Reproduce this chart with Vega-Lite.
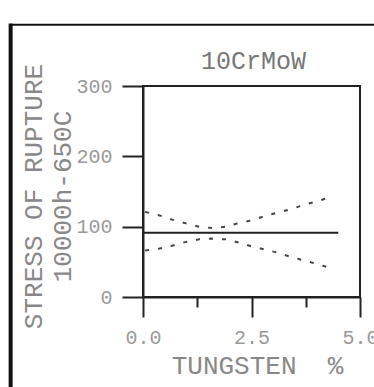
{
  "$schema": "https://vega.github.io/schema/vega-lite/v6.json",
  "width": 217,
  "height": 211,
  "autosize": {"type": "none"},
  "padding": {"left": 143, "top": 86, "right": 14, "bottom": 90},
  "background": "white",
  "config": {"view": {"stroke": "#222", "strokeWidth": 2}, "font": "Liberation Mono"},
  "datasets": {
    "curves": [
      {"series": "mean", "x": 0, "y": 91.5},
      {"series": "mean", "x": 4.5, "y": 91.5},
      {"series": "upper", "x": 0.05, "y": 121},
      {"series": "upper", "x": 0.38, "y": 116},
      {"series": "upper", "x": 0.67, "y": 110},
      {"series": "upper", "x": 0.97, "y": 105},
      {"series": "upper", "x": 1.29, "y": 100},
      {"series": "upper", "x": 1.6, "y": 98},
      {"series": "upper", "x": 1.9, "y": 100},
      {"series": "upper", "x": 2.2, "y": 105},
      {"series": "upper", "x": 2.5, "y": 109},
      {"series": "upper", "x": 2.81, "y": 115},
      {"series": "upper", "x": 3.1, "y": 120},
      {"series": "upper", "x": 3.41, "y": 125},
      {"series": "upper", "x": 3.71, "y": 131},
      {"series": "upper", "x": 4.0, "y": 136},
      {"series": "upper", "x": 4.33, "y": 142},
      {"series": "lower", "x": 0.05, "y": 66},
      {"series": "lower", "x": 0.38, "y": 69},
      {"series": "lower", "x": 0.67, "y": 73},
      {"series": "lower", "x": 0.97, "y": 78},
      {"series": "lower", "x": 1.29, "y": 82},
      {"series": "lower", "x": 1.6, "y": 83},
      {"series": "lower", "x": 1.9, "y": 82},
      {"series": "lower", "x": 2.2, "y": 77.5},
      {"series": "lower", "x": 2.5, "y": 72},
      {"series": "lower", "x": 2.81, "y": 67.5},
      {"series": "lower", "x": 3.1, "y": 63},
      {"series": "lower", "x": 3.41, "y": 57},
      {"series": "lower", "x": 3.71, "y": 52},
      {"series": "lower", "x": 4.0, "y": 47},
      {"series": "lower", "x": 4.33, "y": 41}
    ],
    "vframe": [{"fx": -3.05, "fy": 389, "fy2": -130}],
    "hframe": [{"fx": -3.05, "fx2": 5.4, "fy": 387}]
  },
  "resolve": {"axis": {"x": "independent"}},
  "layer": [
    {
      "data": {"name": "curves"},
      "mark": {"type": "line", "strokeWidth": 2, "clip": false},
      "encoding": {
        "x": {
          "field": "x", "type": "quantitative",
          "scale": {"domain": [0, 5], "nice": false, "zero": false},
          "axis": {
            "orient": "bottom",
            "values": [0, 1.25, 2.5, 3.75, 5],
            "labelExpr": "datum.value === 1.25 || datum.value === 3.75 ? '' : format(datum.value, '.1f')",
            "tickSize": {"condition": {"test": "datum.value === 1.25 || datum.value === 3.75", "value": 10}, "value": 20},
            "tickWidth": 2, "tickColor": "#222", "domainColor": "#222", "domainWidth": 2,
            "labelFont": "Liberation Mono", "labelFontSize": 20, "labelColor": "#999", "labelPadding": 10,
            "labelFlush": false, "labelOverlap": false, "grid": false,
            "title": "TUNGSTEN\u00a0\u00a0%", "titleFont": "Liberation Mono", "titleFontSize": 26, "titleFontWeight": "normal", "titleColor": "#888",
            "titleX": 114, "titleY": 68, "titleAlign": "center", "titleBaseline": "middle"
          }
        },
        "y": {
          "field": "y", "type": "quantitative",
          "scale": {"domain": [0, 300], "nice": false, "zero": false},
          "axis": {
            "values": [0, 50, 100, 150, 200, 250, 300],
            "labelExpr": "datum.value % 100 === 0 ? datum.label : ''",
            "tickSize": {"condition": {"test": "datum.value % 100 === 0", "value": 21}, "value": 10},
            "tickWidth": 2, "tickColor": "#222", "domainColor": "#222", "domainWidth": 2,
            "labelFont": "Liberation Mono", "labelFontSize": 20, "labelColor": "#999", "labelPadding": 10,
            "labelOverlap": false, "grid": false,
            "title": ["STRESS OF RUPTURE", "10000h-650C"], "titleFont": "Liberation Mono", "titleFontSize": 26, "titleFontWeight": "normal", "titleColor": "#888",
            "titleX": -110, "titleY": 110, "titleAngle": -90, "titleAlign": "center", "titleBaseline": "middle", "titleLineHeight": 29
          }
        },
        "detail": {"field": "series"},
        "color": {"field": "series", "type": "nominal", "scale": {"domain": ["mean", "upper", "lower"], "range": ["#222", "#444", "#444"]}, "legend": null},
        "strokeDash": {"field": "series", "type": "nominal", "scale": {"domain": ["mean", "upper", "lower"], "range": [[1, 0], [4, 9], [4, 9]]}, "legend": null}
      }
    },
    {
      "data": {"name": "vframe"},
      "mark": {"type": "rule", "strokeWidth": 4, "color": "#111", "clip": false},
      "encoding": {
        "x": {"field": "fx", "type": "quantitative", "scale": {"domain": [0, 5], "nice": false, "zero": false}, "axis": null},
        "y": {"field": "fy", "type": "quantitative", "scale": {"domain": [0, 300], "nice": false, "zero": false}},
        "y2": {"field": "fy2"}
      }
    },
    {
      "data": {"name": "hframe"},
      "mark": {"type": "rule", "strokeWidth": 2, "color": "#111", "clip": false},
      "encoding": {
        "x": {
          "field": "fx", "type": "quantitative", "scale": {"domain": [0, 5], "nice": false, "zero": false},
          "axis": {
            "orient": "top", "domain": false, "ticks": false, "labels": false, "grid": false,
            "title": "10CrMoW", "titleFont": "Liberation Mono", "titleFontSize": 25, "titleFontWeight": "normal", "titleColor": "#777",
            "titleX": 110, "titleY": -26, "titleAlign": "center", "titleBaseline": "middle"
          }
        },
        "x2": {"field": "fx2"},
        "y": {"field": "fy", "type": "quantitative", "scale": {"domain": [0, 300], "nice": false, "zero": false}}
      }
    }
  ]
}
